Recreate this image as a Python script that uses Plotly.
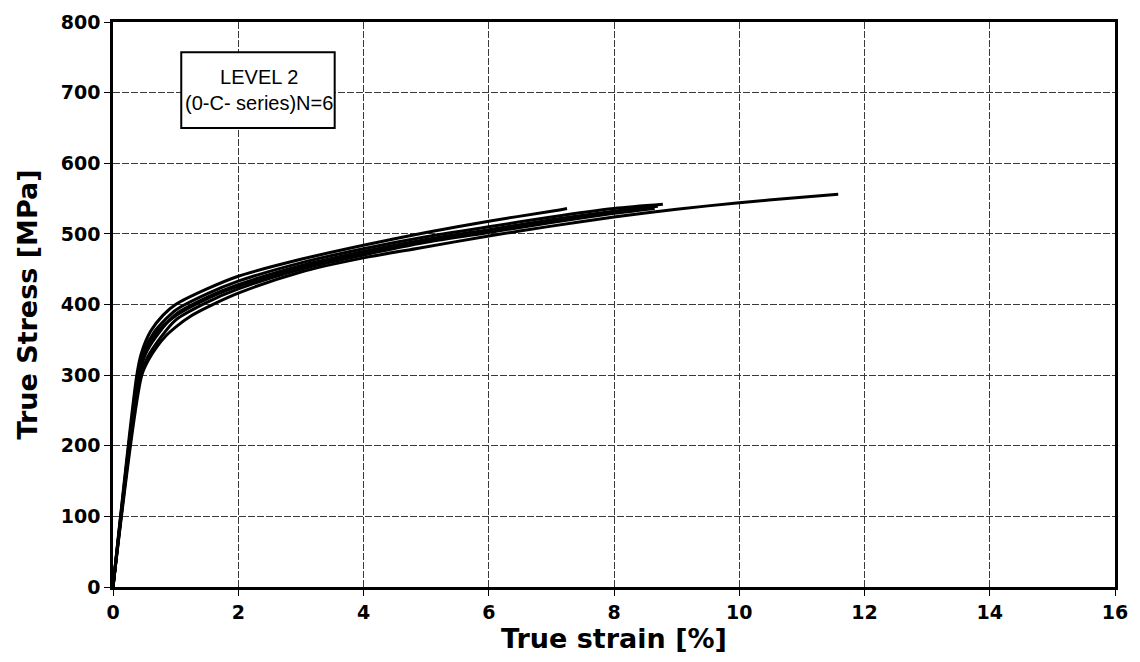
import plotly.graph_objects as go

# True stress-strain curves, six specimens (0-C- series, level 2)
strain_a = [0, 0.38, 0.45, 0.6, 0.8, 1.0, 1.5, 2, 3, 4, 5, 6, 7, 7.25]
stress_a = [0, 300, 330, 362, 385, 400, 422, 440, 464, 484, 502, 518, 532, 536]

strain_b = [0, 0.40, 0.5, 0.65, 0.85, 1.0, 1.5, 2, 3, 4, 5, 6, 7, 8, 8.78]
stress_b = [0, 300, 335, 360, 380, 392, 415, 433, 459, 479, 496, 510, 524, 536, 542]

strain_c = [0, 0.42, 0.52, 0.7, 1.0, 1.5, 2, 3, 4, 5, 6, 7, 8, 8.7]
stress_c = [0, 300, 330, 356, 386, 410, 428, 455, 475, 492, 506, 520, 532, 539]

strain_d = [0, 0.41, 0.5, 0.68, 1.0, 1.5, 2, 3, 4, 5, 6, 7, 8, 8.6]
stress_d = [0, 300, 330, 358, 384, 408, 426, 453, 473, 490, 504, 518, 531, 537]

strain_e = [0, 0.44, 0.55, 0.75, 1.0, 1.5, 2, 3, 4, 5, 6, 7, 8, 8.65]
stress_e = [0, 300, 325, 352, 378, 403, 422, 450, 470, 488, 502, 516, 529, 536]

strain_f = [0, 0.46, 0.57, 0.7, 0.85, 1.0, 1.25, 1.55, 2, 3, 4, 4.9, 6, 7, 8, 9, 10, 11, 11.58]
stress_f = [0, 300, 322, 340, 356, 368, 384, 398, 416, 446, 466, 480, 497, 511, 524, 535, 544, 552, 556]

specimens = [
    (strain_a, stress_a),
    (strain_b, stress_b),
    (strain_c, stress_c),
    (strain_d, stress_d),
    (strain_e, stress_e),
    (strain_f, stress_f),
]

x_ticks = [0, 2, 4, 6, 8, 10, 12, 14, 16]
y_ticks = [0, 100, 200, 300, 400, 500, 600, 700, 800]

fig = go.Figure()
for xs, ys in specimens:
    fig.add_trace(go.Scatter(
        x=xs, y=ys, mode="lines",
        line=dict(color="black", width=3, shape="spline", smoothing=0.8),
        showlegend=False, hoverinfo="skip",
    ))

tick_font = dict(family="DejaVu Sans", size=19, color="black", weight="bold")
title_font = dict(family="DejaVu Sans", size=27, color="black", weight="bold")

axis_common = dict(
    showline=True, linecolor="black", linewidth=2.5, mirror=True,
    showgrid=True, gridcolor="#3a3a3a", gridwidth=1, griddash="7px,2px",
    ticks="outside", ticklen=6, tickcolor="black", tickwidth=1,
    zeroline=False, tickfont=tick_font,
)

fig.update_xaxes(
    range=[0, 16], tickvals=x_ticks, ticktext=[str(v) for v in x_ticks],
    title=dict(text="True strain [%]", font=title_font, standoff=2),
    **axis_common,
)
fig.update_yaxes(
    range=[0, 800], tickvals=y_ticks, ticktext=[str(v) for v in y_ticks],
    title=dict(text="True Stress [MPa]", font=title_font, standoff=16),
    **axis_common,
)

# Label box
fig.add_shape(type="rect", xref="x", yref="y", x0=1.09, x1=3.54, y0=650, y1=757,
              line=dict(color="black", width=2), fillcolor="white", layer="above")
fig.add_annotation(x=2.33, y=703.5, xref="x", yref="y",
                   text="LEVEL 2<br>(0-C- series)N=6", showarrow=False,
                   align="center",
                   font=dict(family="Liberation Sans, Arial", size=20, color="black"))

fig.update_layout(
    width=1140, height=662,
    margin=dict(l=113, r=25, t=22, b=75),
    paper_bgcolor="white", plot_bgcolor="white",
)

fig.write_html("out.html")
